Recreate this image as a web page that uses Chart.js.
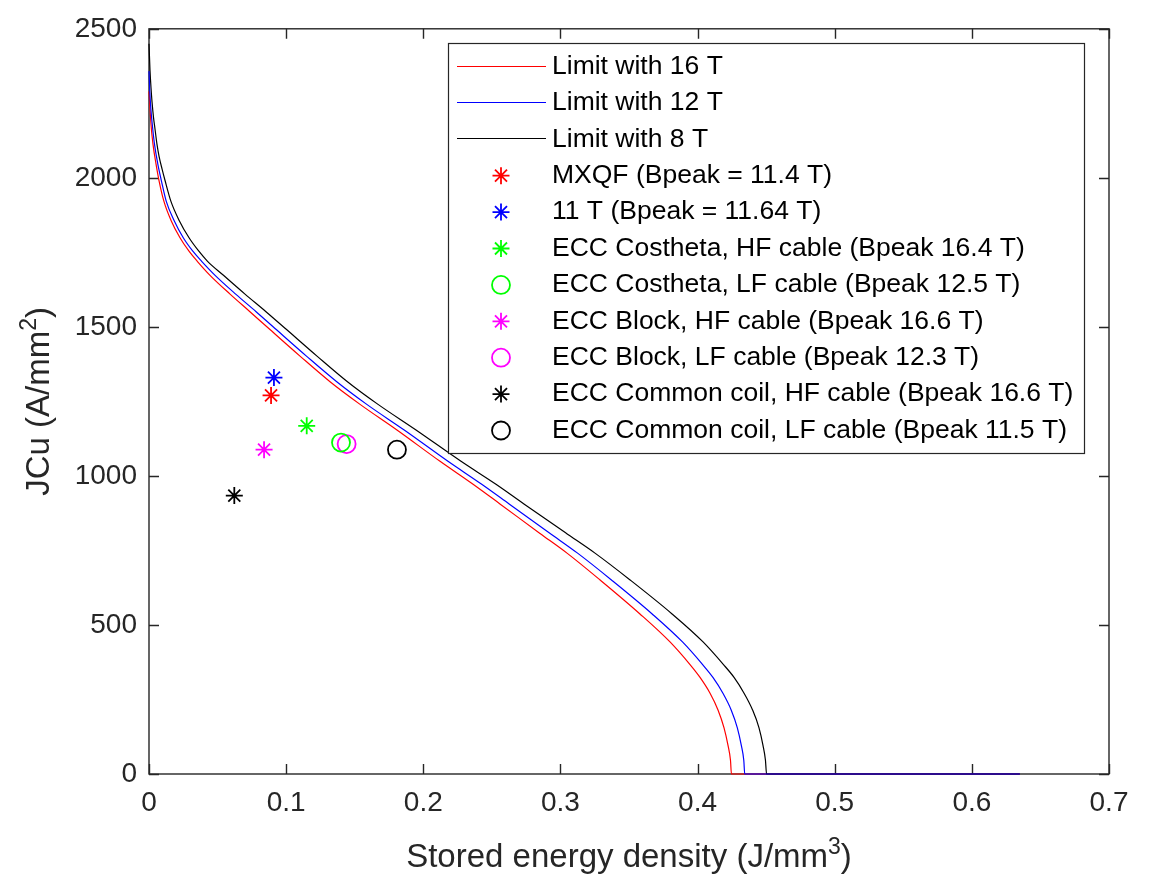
<!DOCTYPE html>
<html>
<head>
<meta charset="utf-8">
<script src="https://cdn.jsdelivr.net/npm/chart.js@4.4.1/dist/chart.umd.min.js"></script>
<style>
    html, body { margin: 0; padding: 0; background: #ffffff; }
    #wrap { width: 1158px; height: 875px; }
</style>
</head>
<body>
<div id="wrap"><canvas id="chartLimits" width="1158" height="875"></canvas></div>
<script>

    // limit curves (x = stored energy density J/mm3, y = JCu A/mm2)
    const limit16X = [0, 0.00146, 0.0029, 0.0051, 0.0073, 0.0109, 0.016, 0.0226, 0.0293, 0.0352, 0.0445, 0.0591, 0.0736, 0.0882, 0.1101, 0.132, 0.1539, 0.1808, 0.2122, 0.2363, 0.2559, 0.2851, 0.3048, 0.3289, 0.358, 0.3799, 0.3945, 0.4018, 0.4091, 0.4149, 0.4193, 0.4222, 0.424, 0.4247, 0.635]
    const limit16Y = [2290, 2179, 2113, 2047, 1991, 1921, 1858, 1799, 1753, 1720, 1673, 1610, 1551, 1491, 1402, 1316, 1240, 1154, 1049, 972, 906, 807, 741, 651, 537, 443, 367, 324, 271, 215, 155, 96, 46, 0, 0]

    const limit12X = [0, 0.00058, 0.0013, 0.0024, 0.004, 0.0064, 0.009, 0.0126, 0.0182, 0.025, 0.0321, 0.0384, 0.0482, 0.0632, 0.0781, 0.0928, 0.1148, 0.1369, 0.1588, 0.1861, 0.218, 0.2426, 0.2626, 0.2925, 0.3125, 0.3372, 0.3669, 0.389, 0.4037, 0.4112, 0.4185, 0.4245, 0.429, 0.4319, 0.4337, 0.4344, 0.635]
    const limit12Y = [2358, 2289, 2235, 2179, 2113, 2047, 1991, 1921, 1858, 1799, 1753, 1720, 1673, 1610, 1551, 1491, 1402, 1316, 1240, 1154, 1049, 972, 906, 807, 741, 651, 537, 443, 367, 324, 271, 215, 155, 96, 46, 0, 0]

    const limit8X = [0, 0.00073, 0.00146, 0.0022, 0.0033, 0.0044, 0.0058, 0.0073, 0.0095, 0.0117, 0.016, 0.0219, 0.0292, 0.0365, 0.0427, 0.0543, 0.07, 0.0853, 0.1003, 0.1225, 0.1447, 0.167, 0.1947, 0.2275, 0.253, 0.2734, 0.3044, 0.3252, 0.3508, 0.3814, 0.404, 0.4189, 0.4266, 0.4339, 0.4401, 0.4448, 0.4477, 0.4495, 0.4503, 0.635]
    const limit8Y = [2450, 2361, 2302, 2255, 2202, 2163, 2113, 2073, 2030, 1991, 1921, 1858, 1799, 1753, 1720, 1673, 1610, 1551, 1491, 1402, 1316, 1240, 1154, 1049, 972, 906, 807, 741, 651, 537, 443, 367, 324, 271, 215, 155, 96, 46, 0, 0]

    const curveNames = ['Limit with 16 T', 'Limit with 12 T', 'Limit with 8 T']

    // magnet designs
    const magnetNames = [
        'MXQF (Bpeak = 11.4 T)',
        '11 T (Bpeak = 11.64 T)',
        'ECC Costheta, HF cable (Bpeak 16.4 T)',
        'ECC Costheta, LF cable (Bpeak 12.5 T)',
        'ECC Block, HF cable (Bpeak 16.6 T)',
        'ECC Block, LF cable (Bpeak 12.3 T)',
        'ECC Common coil, HF cable (Bpeak 16.6 T)',
        'ECC Common coil, LF cable (Bpeak 11.5 T)'
    ]
    const magnetX = [0.089, 0.0911, 0.115, 0.14, 0.0839, 0.1441, 0.0622, 0.1808]
    const magnetY = [1270, 1330, 1168, 1112, 1088, 1107, 934, 1088]

    const xTicks = [0, 0.1, 0.2, 0.3, 0.4, 0.5, 0.6, 0.7]
    const yTicks = [0, 500, 1000, 1500, 2000, 2500]

    // axis titles as [text, superscript, tail]
    const xTitle = ['Stored energy density (J/mm', '3', ')']
    const yTitle = ['JCu (A/mm', '2', ')']

    /*
    * Execute On Dom Load
    */
    document.addEventListener("DOMContentLoaded", function() {

        const axisColor = '#262626'
        const fontFamily = '"Liberation Sans", Arial, Helvetica, sans-serif'

        const curveColors = ['#ff0000', '#0000ff', '#000000']
        const curveOrder = [3, 1, 2]
        const magnetColors = ['#ff0000', '#0000ff', '#00ff00', '#00ff00', '#ff00ff', '#ff00ff', '#000000', '#000000']
        const magnetStyles = ['star', 'star', 'star', 'circle', 'star', 'circle', 'star', 'circle']

        const toPoints = (xs, ys) => xs.map((x, i) => ({ x: x, y: ys[i] }))

        const curveData = [
            toPoints(limit16X, limit16Y),
            toPoints(limit12X, limit12Y),
            toPoints(limit8X, limit8Y)
        ]

        const datasets = []

        curveNames.forEach((name, i) => {
            datasets.push({
                label: name,
                data: curveData[i],
                showLine: true,
                borderColor: curveColors[i],
                backgroundColor: curveColors[i],
                borderWidth: 1.2,
                pointRadius: 0,
                cubicInterpolationMode: 'monotone',
                clip: 3,
                order: curveOrder[i]
            })
        })

        magnetNames.forEach((name, i) => {
            datasets.push({
                label: name,
                data: [{ x: magnetX[i], y: magnetY[i] }],
                showLine: false,
                pointStyle: magnetStyles[i],
                pointRadius: magnetStyles[i] == 'circle' ? 9 : 8.5,
                borderColor: magnetColors[i],
                backgroundColor: 'rgba(0,0,0,0)',
                borderWidth: 1.8,
                order: 0
            })
        })

        // legend rows: [label, colour, kind]
        const legendRows = curveNames.map((n, i) => [n, curveColors[i], 'line'])
            .concat(magnetNames.map((n, i) => [n, magnetColors[i], magnetStyles[i]]))

        // text with a raised digit, centred on (0, 0) of the current transform
        const drawSupText = (ctx, parts, size) => {
            let base = size + 'px ' + fontFamily
            let sup = Math.round(size * 0.7) + 'px ' + fontFamily

            ctx.font = base
            let w1 = ctx.measureText(parts[0]).width
            let w3 = ctx.measureText(parts[2]).width
            ctx.font = sup
            let w2 = ctx.measureText(parts[1]).width

            let x = -(w1 + w2 + w3) / 2
            let baseline = size * 0.36

            ctx.textAlign = 'left'
            ctx.textBaseline = 'alphabetic'
            ctx.font = base
            ctx.fillText(parts[0], x, baseline)
            ctx.font = sup
            ctx.fillText(parts[1], x + w1, baseline - size * 0.4)
            ctx.font = base
            ctx.fillText(parts[2], x + w1 + w2, baseline)
        }

        // box, inner ticks, titles and the legend, matlab look
        const matlabAxes = {
            id: 'matlabAxes',

            beforeDatasetsDraw(chart) {
                const ctx = chart.ctx
                const area = chart.chartArea
                const xs = chart.scales.x
                const ys = chart.scales.y
                const tickLen = 10

                ctx.save()
                ctx.strokeStyle = axisColor
                ctx.lineWidth = 1.4
                ctx.strokeRect(area.left, area.top, area.right - area.left, area.bottom - area.top)

                ctx.beginPath()
                xTicks.forEach((v) => {
                    let px = Math.round(xs.getPixelForValue(v)) + 0.5
                    ctx.moveTo(px, area.bottom)
                    ctx.lineTo(px, area.bottom - tickLen)
                    ctx.moveTo(px, area.top)
                    ctx.lineTo(px, area.top + tickLen)
                })
                yTicks.forEach((v) => {
                    let py = Math.round(ys.getPixelForValue(v)) + 0.5
                    ctx.moveTo(area.left, py)
                    ctx.lineTo(area.left + tickLen, py)
                    ctx.moveTo(area.right, py)
                    ctx.lineTo(area.right - tickLen, py)
                })
                ctx.stroke()

                // axis titles
                ctx.fillStyle = axisColor
                ctx.save()
                ctx.translate((area.left + area.right) / 2, 855)
                drawSupText(ctx, xTitle, 33)
                ctx.restore()

                ctx.save()
                ctx.translate(37, (area.top + area.bottom) / 2)
                ctx.rotate(-Math.PI / 2)
                drawSupText(ctx, yTitle, 33)
                ctx.restore()

                ctx.restore()
            },

            afterDatasetsDraw(chart) {
                const ctx = chart.ctx
                const box = { left: 448, top: 43, right: 1084, bottom: 453 }
                const rowTop = 66.5
                const rowStep = 36.4

                ctx.save()
                ctx.fillStyle = '#ffffff'
                ctx.fillRect(box.left, box.top, box.right - box.left, box.bottom - box.top)
                ctx.strokeStyle = axisColor
                ctx.lineWidth = 1.2
                ctx.strokeRect(box.left + 0.5, box.top + 0.5, box.right - box.left, box.bottom - box.top)

                ctx.font = '26.5px ' + fontFamily
                ctx.textBaseline = 'middle'
                ctx.textAlign = 'left'

                legendRows.forEach((row, i) => {
                    let y = rowTop + i * rowStep
                    let color = row[1]
                    let kind = row[2]

                    ctx.strokeStyle = color

                    if (kind == 'line') {
                        let ly = Math.round(y) - 0.5
                        ctx.lineWidth = 1.2
                        ctx.beginPath()
                        ctx.moveTo(457, ly)
                        ctx.lineTo(546, ly)
                        ctx.stroke()
                    }
                    else {
                        ctx.lineWidth = 1.8
                        let cx = 501
                        ctx.beginPath()
                        if (kind == 'circle') {
                            ctx.arc(cx, y, 9, 0, Math.PI * 2)
                        }
                        else {
                            let r = 8.5
                            for (let k = 0; k < 4; k++) {
                                let a = k * Math.PI / 4
                                ctx.moveTo(cx - Math.cos(a) * r, y - Math.sin(a) * r)
                                ctx.lineTo(cx + Math.cos(a) * r, y + Math.sin(a) * r)
                            }
                        }
                        ctx.stroke()
                    }

                    ctx.fillStyle = '#000000'
                    ctx.fillText(row[0], 552, y)
                })

                ctx.restore()
            }
        }

        const chartElem = document.getElementById('chartLimits')

        new Chart(chartElem.getContext('2d'), {
            type: 'scatter',
            data: { datasets: datasets },
            plugins: [matlabAxes],
            options: {
                responsive: false,
                animation: false,
                events: [],
                devicePixelRatio: 1,
                layout: { padding: { left: 0, top: 18, right: 49, bottom: 0 } },
                plugins: {
                    legend: { display: false },
                    tooltip: { enabled: false },
                    colors: { enabled: false }
                },
                scales: {
                    x: {
                        type: 'linear',
                        min: 0,
                        max: 0.7,
                        afterBuildTicks: (scale) => { scale.ticks = xTicks.map(v => ({ value: v })) },
                        afterFit: (scale) => { scale.height = 101 },
                        grid: { display: false, drawTicks: false },
                        border: { display: false },
                        ticks: {
                            padding: 12,
                            color: axisColor,
                            maxRotation: 0,
                            font: { family: fontFamily, size: 28 },
                            callback: (v) => String(Math.round(v * 10) / 10)
                        }
                    },
                    y: {
                        type: 'linear',
                        min: 0,
                        max: 2500,
                        afterBuildTicks: (scale) => { scale.ticks = yTicks.map(v => ({ value: v })) },
                        afterFit: (scale) => { scale.width = 149 },
                        grid: { display: false, drawTicks: false },
                        border: { display: false },
                        ticks: {
                            padding: 12,
                            color: axisColor,
                            font: { family: fontFamily, size: 28 },
                            callback: (v) => String(v)
                        }
                    }
                }
            }
        })

    })

</script>
</body>
</html>
